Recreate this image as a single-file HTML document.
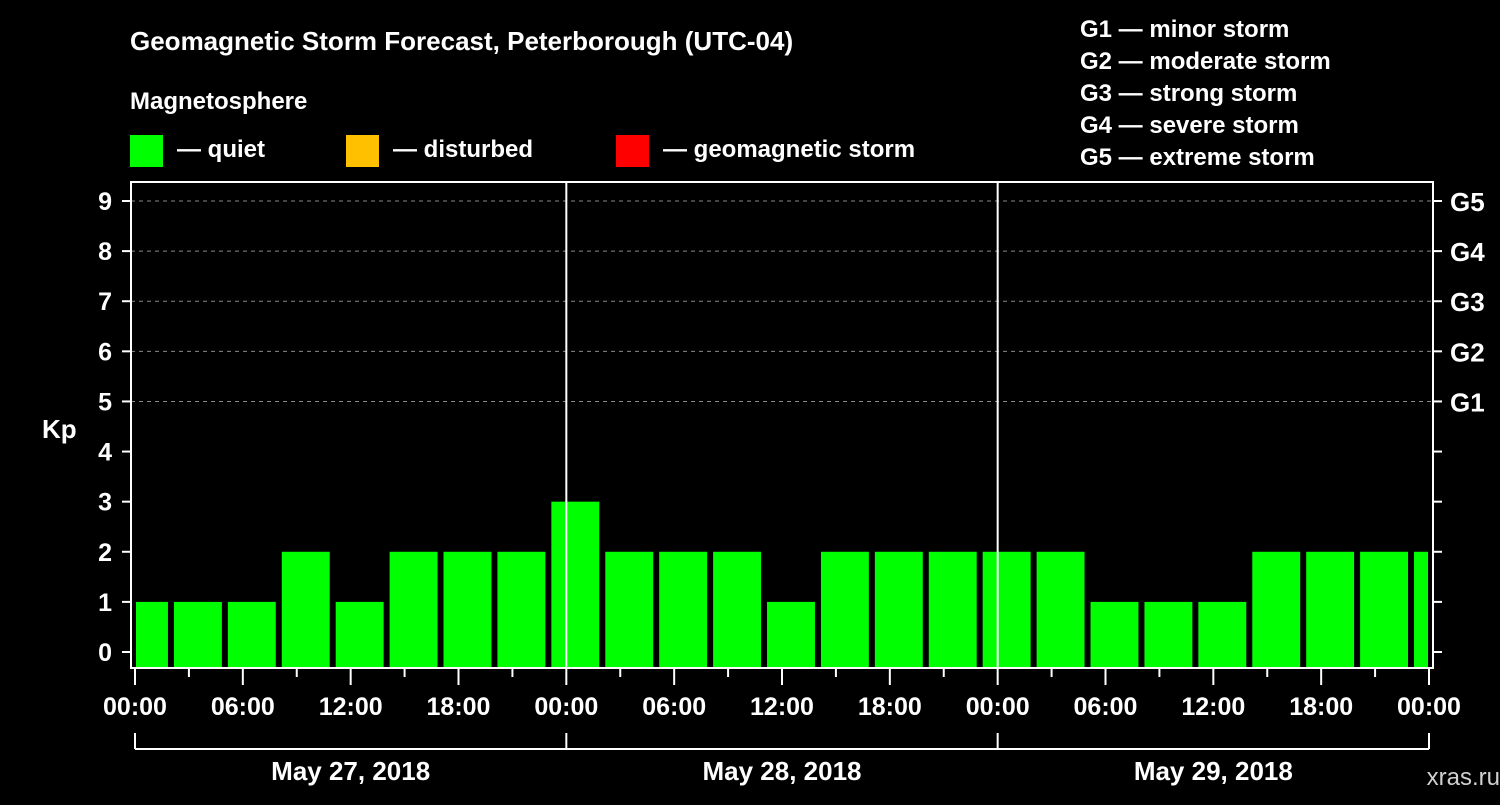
<!DOCTYPE html>
<html><head><meta charset="utf-8"><style>
body{margin:0;background:#000;width:1500px;height:800px;overflow:hidden}
svg text{font-family:"Liberation Sans",Arial,sans-serif;font-weight:bold;fill:#fff}
</style></head><body>
<svg id="c" width="1500" height="800">
<text x="130" y="50" font-size="26">Geomagnetic Storm Forecast, Peterborough (UTC-04)</text>
<text x="130" y="109" font-size="24">Magnetosphere</text>
<rect x="130" y="135" width="33" height="32" fill="#00ff00"/>
<text x="177" y="157" font-size="24">— quiet</text>
<rect x="346" y="135" width="33" height="32" fill="#ffc000"/>
<text x="393" y="157" font-size="24">— disturbed</text>
<rect x="616" y="135" width="33" height="32" fill="#ff0000"/>
<text x="663" y="157" font-size="24">— geomagnetic storm</text>
<g font-size="24">
<text x="1080" y="37">G1 — minor storm</text>
<text x="1080" y="69">G2 — moderate storm</text>
<text x="1080" y="101">G3 — strong storm</text>
<text x="1080" y="133">G4 — severe storm</text>
<text x="1080" y="165">G5 — extreme storm</text>
</g>
<text x="42" y="438" font-size="26">Kp</text>
<text x="1500" y="785" font-size="24" text-anchor="end" fill="#ccc" style="fill:#d0d0d0;font-weight:normal">xras.ru  </text>
<g id="plot"></g>
</svg>
<script>
const kpValues=[1,1,1,2,1,2,2,2,3,2,2,2,1,2,2,2,2,2,1,1,1,2,2,2,2];
const barStartHours=[-1,2,5,8,11,14,17,20,23,26,29,32,35,38,41,44,47,50,53,56,59,62,65,68,71];
const yTicks=[0,1,2,3,4,5,6,7,8,9];
const gLabels=["G1","G2","G3","G4","G5"];
const gLevels=[5,6,7,8,9];
const xTickLabels=["00:00","06:00","12:00","18:00","00:00","06:00","12:00","18:00","00:00","06:00","12:00","18:00","00:00"];
const dayLabels=["May 27, 2018","May 28, 2018","May 29, 2018"];
const NS="http://www.w3.org/2000/svg";
const g=document.getElementById('plot');
const X0=135,X1=1429,TOP=182,BOT=668;
const xs=h=>X0+(X1-X0)*h/72;
const ys=v=>652-(652-201)*v/9;
function mk(t,a,p){const e=document.createElementNS(NS,t);for(const k in a)e.setAttribute(k,a[k]);(p||g).appendChild(e);return e;}
// grid
gLevels.forEach(v=>{const l=mk('line',{x1:131,x2:1433,y1:ys(v),y2:ys(v),stroke:'#888','stroke-dasharray':'4,4','stroke-width':1});

});
// bars
kpValues.forEach((v,i)=>{const s=Math.max(0,barStartHours[i]),e=Math.min(72,barStartHours[i]+3);
const x0=xs(s)+(barStartHours[i]<0?1:3),x1=xs(e)-(barStartHours[i]+3>72?1:3);
const r=mk('rect',{x:x0,y:ys(v),width:x1-x0,height:BOT-ys(v),fill:'#00ff00'});

});
// day separators
[24,48].forEach(h=>{const l=mk('line',{x1:xs(h),x2:xs(h),y1:TOP,y2:BOT,stroke:'#fff','stroke-width':2});

});
// frame
const f=mk('rect',{x:131,y:TOP,width:1433-131,height:BOT-TOP,fill:'none',stroke:'#fff','stroke-width':2});


// y ticks
yTicks.forEach(v=>{mk('line',{x1:122,x2:131,y1:ys(v),y2:ys(v),stroke:'#fff','stroke-width':2});
mk('line',{x1:1433,x2:1442,y1:ys(v),y2:ys(v),stroke:'#fff','stroke-width':2});
const t=mk('text',{x:112,y:ys(v)+9,'font-size':25,'text-anchor':'end'});t.textContent=v;

});
gLevels.forEach((v,i)=>{const t=mk('text',{x:1450,y:ys(v)+10,'font-size':26});t.textContent=gLabels[i];

});
// x ticks
for(let h=0;h<=72;h+=3){const maj=h%6==0;mk('line',{x1:xs(h),x2:xs(h),y1:BOT,y2:BOT+(maj?17:9),stroke:'#fff','stroke-width':2});}
xTickLabels.forEach((s,i)=>{const t=mk('text',{x:xs(i*6),y:715,'font-size':25,'text-anchor':'middle'});t.textContent=s;

});
// day brackets
mk('line',{x1:X0,x2:X1,y1:749,y2:749,stroke:'#fff','stroke-width':2});
[0,24,48,72].forEach(h=>mk('line',{x1:xs(h),x2:xs(h),y1:733,y2:749,stroke:'#fff','stroke-width':2}));
dayLabels.forEach((s,i)=>{const t=mk('text',{x:xs(i*24+12),y:780,'font-size':26,'text-anchor':'middle'});t.textContent=s;

});
</script>
</body></html>
